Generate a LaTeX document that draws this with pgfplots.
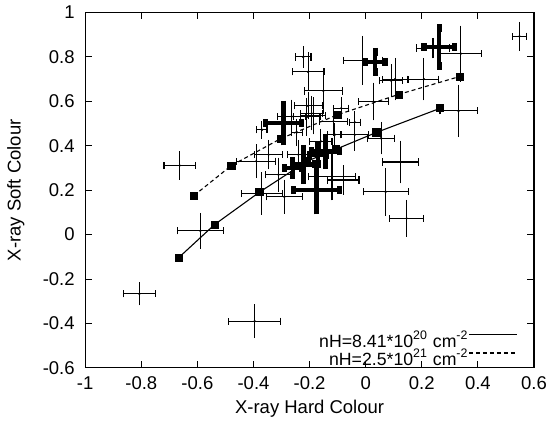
\documentclass[border=0pt]{standalone}
\usepackage{fontspec}
\setmainfont{Liberation Sans}
\usepackage{pgfplots}
\usepackage{pgfplotstable}
\pgfplotsset{compat=1.18}

% thin error crosses: x y ex ey
\pgfplotstableread[row sep=\\]{
x y ex ey \\
-0.807 -0.267 0.057 0.036 \\
-0.396 -0.390 0.093 0.060 \\
-0.589 0.017 0.083 0.065 \\
-0.370 0.185 0.072 0.080 \\
-0.290 0.170 0.065 0.061 \\
-0.663 0.311 0.056 0.048 \\
-0.223 0.800 0.028 0.032 \\
-0.205 0.733 0.057 0.072 \\
-0.151 0.647 0.067 0.086 \\
-0.010 0.785 0.070 0.094 \\
0.339 0.815 0.075 0.110 \\
0.548 0.893 0.026 0.049 \\
0.091 0.693 0.041 0.058 \\
0.105 0.700 0.045 0.080 \\
0.207 0.700 0.054 0.080 \\
0.028 0.599 0.053 0.069 \\
0.331 0.557 0.066 0.102 \\
0.055 0.434 0.048 0.057 \\
0.124 0.327 0.063 0.080 \\
0.071 0.193 0.080 0.091 \\
0.146 0.073 0.061 0.067 \\
-0.039 0.506 0.020 0.034 \\
-0.039 0.450 0.050 0.056 \\
-0.087 0.569 0.027 0.034 \\
-0.370 0.472 0.018 0.024 \\
-0.390 0.330 0.070 0.060 \\
-0.346 0.360 0.050 0.050 \\
-0.311 0.270 0.045 0.060 \\
-0.264 0.532 0.050 0.060 \\
-0.210 0.530 0.047 0.070 \\
-0.205 0.580 0.050 0.045 \\
-0.187 0.535 0.045 0.067 \\
-0.110 0.450 0.025 0.037 \\
-0.080 0.246 0.056 0.050 \\
-0.120 0.260 0.085 0.090 \\
-0.193 0.546 0.040 0.060 \\
-0.115 0.510 0.050 0.050 \\
-0.246 0.460 0.020 0.045 \\
-0.240 0.360 0.040 0.050 \\
-0.160 0.420 0.040 0.040 \\
0.240 0.840 0.060 0.030 \\
}\thincross

% thick error crosses
\pgfplotstableread[row sep=\\]{
x y ex ey \\
-0.293 0.502 0.065 0.082 \\
-0.175 0.200 0.083 0.091 \\
-0.143 0.375 0.050 0.060 \\
-0.222 0.316 0.040 0.070 \\
0.034 0.778 0.035 0.045 \\
0.262 0.845 0.054 0.084 \\
-0.260 0.300 0.030 0.030 \\
-0.170 0.360 0.030 0.040 \\
}\thickcross

% absorption model tracks
\pgfplotstableread[row sep=\\]{
x y \\
-0.666 -0.103 \\
-0.539 0.045 \\
-0.379 0.191 \\
-0.210 0.330 \\
-0.105 0.385 \\
0.038 0.460 \\
0.266 0.569 \\
}\modellow

\pgfplotstableread[row sep=\\]{
x y \\
-0.612 0.176 \\
-0.479 0.311 \\
-0.303 0.432 \\
-0.102 0.539 \\
0.117 0.631 \\
0.335 0.712 \\
}\modelhigh

\pgfplotsset{
  xerr/.style={only marks, mark=*, mark size=0.3pt, black, forget plot,
    error bars/.cd, x dir=both, x explicit, error mark=|},
  yerr/.style={only marks, mark=*, mark size=0.3pt, black, forget plot,
    error bars/.cd, y dir=both, y explicit, error mark=-},
}

\begin{document}
\fontsize{9.3}{11}\selectfont
\begin{tikzpicture}
\begin{axis}[
    scale only axis,
    width=225.7pt, height=178.7pt,
    xmin=-1, xmax=0.6, ymin=-0.6, ymax=1,
    xtick={-1,-0.8,...,0.61}, ytick={-0.6,-0.4,...,1.01},
    /pgf/number format/assume math mode=true,
    /pgf/number format/fixed, /pgf/number format/precision=1,
    tick align=inside, major tick length=3.5pt,
    axis line style={line width=0.6pt},
    every tick/.style={line width=0.5pt, black},
    xticklabel style={yshift=-1pt},
    yticklabel style={xshift=-2pt},
    xlabel={X-ray Hard Colour},
    ylabel={X-ray Soft Colour},
    every axis x label/.style={at={(rel axis cs:0.5,0)}, anchor=center, yshift=-20.5pt},
    every axis y label/.style={at={(rel axis cs:0,0.5)}, anchor=center, rotate=90, yshift=34.9pt},
    legend style={at={(axis cs:0.542,-0.598)}, anchor=south east, draw=none, fill=none,
        inner sep=0pt, font=\fontsize{8.9}{10}\selectfont,
        nodes={inner sep=0pt, text height=8.2pt, text depth=0.9pt}},
    legend cell align=right,
    legend plot pos=right,
    legend image code/.code={\draw[#1] (5.5pt,2.5pt) -- (29.5pt,2.5pt);},
    clip=false,
]
% thin crosses
\addplot[xerr, error bar style={line width=0.55pt},
    error mark options={mark size=1.8pt, line width=0.55pt}]
    table[x=x, y=y, x error=ex] {\thincross};
\addplot[yerr, error bar style={line width=0.55pt},
    error mark options={mark size=1.8pt, line width=0.55pt}]
    table[x=x, y=y, y error=ey] {\thincross};
% thick crosses
\addplot[xerr, error bar style={line width=2.2pt},
    error mark options={mark size=2pt, line width=2.6pt}]
    table[x=x, y=y, x error=ex] {\thickcross};
\addplot[yerr, error bar style={line width=2.2pt},
    error mark options={mark size=2pt, line width=2.6pt}]
    table[x=x, y=y, y error=ey] {\thickcross};
% model lines
\addplot[black, line width=0.55pt, mark=none] table[x=x, y=y] {\modellow};
\addlegendentry{nH=8.41*10\textsuperscript{20} cm\textsuperscript{-2}}
\addplot[black, line width=0.55pt, dash pattern=on 2pt off 1.5pt, mark=none] table[x=x, y=y] {\modelhigh};
\addlegendentry{nH=2.5*10\textsuperscript{21} cm\textsuperscript{-2}}
\addplot[only marks, mark=square*, mark size=1.8pt, black, forget plot] table[x=x, y=y] {\modellow};
\addplot[only marks, mark=square*, mark size=1.8pt, black, forget plot] table[x=x, y=y] {\modelhigh};
\end{axis}
\path (current axis.south west) ++(-42.85pt,-26.65pt) (current axis.north east) ++(8pt,5.2pt);
\end{tikzpicture}
\end{document}
